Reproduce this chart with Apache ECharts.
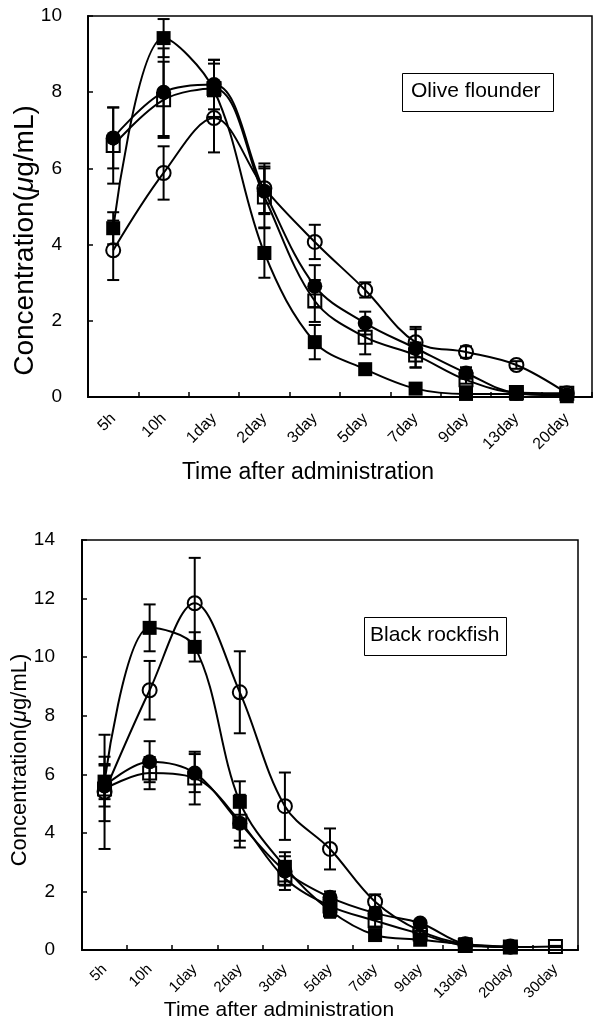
<!DOCTYPE html>
<html>
<head>
<meta charset="utf-8">
<script src="https://cdn.jsdelivr.net/npm/echarts@6/dist/echarts.min.js"></script>
<style>
html,body{margin:0;padding:0;background:#fff;}
#chart{width:593px;height:1018px;}
</style>
</head>
<body>
<div id="chart"></div>
<script>
// ---------- DATA ----------
const topCategories = ['5h','10h','1day','2day','3day','5day','7day','9day','13day','20day'];
const bottomCategories = ['5h','10h','1day','2day','3day','5day','7day','9day','13day','20day','30day'];
const topYTicks = [0, 2, 4, 6, 8, 10];
const bottomYTicks = [0, 2, 4, 6, 8, 10, 12, 14];

// Olive flounder
const topFilledSquare     = [4.43, 9.42, 8.05, 3.78, 1.44, 0.73, 0.22, 0.08, 0.08, 0.02];
const topFilledSquareErr  = [0.42, 0.50, 0.70, 0.65, 0.45, 0.10, 0.06, 0.05, 0.05, 0.02];
const topFilledCircle     = [6.80, 8.00, 8.20, 5.40, 2.91, 1.94, 1.28, 0.63, 0.10, 0.05];
const topFilledCircleErr  = [0.80, 1.15, 0.65, 0.60, 0.55, 0.30, 0.50, 0.15, 0.05, 0.02];
const topOpenSquare       = [6.60, 7.80, 8.10, 5.25, 2.52, 1.57, 1.10, 0.45, 0.12, 0.10];
const topOpenSquareErr    = [1.00, 1.00, 0.75, 0.80, 0.55, 0.45, 0.33, 0.10, 0.05, 0.05];
const topOpenCircle       = [3.85, 5.88, 7.32, 5.48, 4.07, 2.81, 1.44, 1.18, 0.84, 0.10];
const topOpenCircleErr    = [0.78, 0.70, 0.90, 0.65, 0.45, 0.20, 0.40, 0.15, 0.10, 0.05];

// Black rockfish
const botFilledSquare     = [5.75, 11.00, 10.35, 5.06, 2.84, 1.35, 0.51, 0.35, 0.20, 0.10, null];
const botFilledSquareErr  = [0.60, 0.80, 0.50, 0.70, 0.50, 0.25, 0.15, 0.10, 0.05, 0.05, null];
const botFilledCircle     = [5.60, 6.43, 6.04, 4.33, 2.70, 1.80, 1.26, 0.92, 0.20, 0.10, null];
const botFilledCircleErr  = [0.70, 0.70, 0.65, 0.60, 0.50, 0.20, 0.20, 0.10, 0.05, 0.05, null];
const botOpenSquare       = [5.50, 6.04, 5.87, 4.40, 2.45, 1.50, 1.00, 0.55, 0.15, 0.10, 0.12];
const botOpenSquareErr    = [1.10, 0.55, 0.90, 0.90, 0.40, 0.30, 0.20, 0.10, 0.05, 0.05, 0.02];
const botOpenCircle       = [5.40, 8.87, 11.84, 8.80, 4.91, 3.45, 1.65, 0.65, 0.20, 0.12, null];
const botOpenCircleErr    = [1.95, 1.00, 1.55, 1.40, 1.15, 0.70, 0.25, 0.10, 0.05, 0.05, null];

// ---------- CHART ----------
const FONT = 'Liberation Sans, Arial, sans-serif';
const chart = echarts.init(document.getElementById('chart'), null, {renderer: 'canvas'});

const styles = {
  filledSquare: {symbol: 'rect', size: 14, item: {color: '#000', borderColor: '#000', borderWidth: 0}},
  filledCircle: {symbol: 'circle', size: 15, item: {color: '#000', borderColor: '#000', borderWidth: 0}},
  openSquare:   {symbol: 'rect', size: 13, item: {color: 'rgba(255,255,255,0)', borderColor: '#000', borderWidth: 2}},
  openCircle:   {symbol: 'circle', size: 14, item: {color: 'rgba(255,255,255,0)', borderColor: '#000', borderWidth: 2}}
};

const series = [];
function addSet(gi, vals, errs, kind) {
  const data = [];
  vals.forEach((v, i) => { if (v != null) data.push([i, v, errs[i]]); });
  series.push({
    type: 'custom', xAxisIndex: gi, yAxisIndex: gi, silent: true, z: 2,
    encode: {x: 0, y: 1},
    data: data,
    renderItem: function (params, api) {
      const x = api.value(0), y = api.value(1), e = api.value(2);
      const top = api.coord([x, y + e]);
      const bot = api.coord([x, Math.max(0, y - e)]);
      const hw = 6;
      const st = {stroke: '#000', lineWidth: 2};
      return {type: 'group', children: [
        {type: 'line', shape: {x1: top[0], y1: top[1], x2: bot[0], y2: bot[1]}, style: st},
        {type: 'line', shape: {x1: top[0] - hw, y1: top[1], x2: top[0] + hw, y2: top[1]}, style: st},
        {type: 'line', shape: {x1: bot[0] - hw, y1: bot[1], x2: bot[0] + hw, y2: bot[1]}, style: st}
      ]};
    }
  });
  const s = styles[kind];
  series.push({
    type: 'line', xAxisIndex: gi, yAxisIndex: gi, z: 3,
    data: vals,
    smooth: 0.35,
    symbol: s.symbol, symbolSize: s.size, showSymbol: true,
    lineStyle: {color: '#000', width: 2},
    itemStyle: s.item,
    emphasis: {disabled: true}
  });
}

addSet(0, topOpenCircle, topOpenCircleErr, 'openCircle');
addSet(0, topOpenSquare, topOpenSquareErr, 'openSquare');
addSet(0, topFilledCircle, topFilledCircleErr, 'filledCircle');
addSet(0, topFilledSquare, topFilledSquareErr, 'filledSquare');
addSet(1, botOpenCircle, botOpenCircleErr, 'openCircle');
addSet(1, botOpenSquare, botOpenSquareErr, 'openSquare');
addSet(1, botFilledCircle, botFilledCircleErr, 'filledCircle');
addSet(1, botFilledSquare, botFilledSquareErr, 'filledSquare');

function xAxis(gi, cats, fontSize, nameSize, margin, namePad, nameGap) {
  return {
    type: 'category', gridIndex: gi, data: cats, boundaryGap: true,
    axisLine: {show: true, lineStyle: {color: '#000', width: 2}},
    axisTick: {show: true, inside: true, length: 5, lineStyle: {color: '#000', width: 1.5}},
    axisLabel: {rotate: 45, color: '#000', fontSize: fontSize, fontFamily: FONT, margin: margin, interval: 0},
    splitLine: {show: false},
    name: 'Time after administration', nameLocation: 'middle', nameGap: nameGap, nameMoveOverlap: false,
    nameTextStyle: {color: '#000', fontSize: nameSize, fontFamily: FONT, padding: namePad, verticalAlign: 'top'}
  };
}
function yAxis(gi, ticks, nameGap, margin, nameSize, namePad) {
  return {
    type: 'value', gridIndex: gi, min: ticks[0], max: ticks[ticks.length - 1], interval: ticks[1] - ticks[0],
    axisLine: {show: true, lineStyle: {color: '#000', width: 2}},
    axisTick: {show: true, inside: true, length: 5, lineStyle: {color: '#000', width: 1.5}},
    axisLabel: {color: '#000', fontSize: 19, fontFamily: FONT, margin: margin},
    splitLine: {show: false},
    name: 'Concentration({i|μ}g/mL)', nameLocation: 'middle', nameGap: nameGap, nameMoveOverlap: false,
    nameTextStyle: {color: '#000', fontSize: nameSize, fontFamily: FONT, padding: namePad,
      rich: {i: {fontStyle: 'italic', fontSize: nameSize, fontFamily: FONT, color: '#000'}}}
  };
}

const option = {
  animation: false,
  backgroundColor: '#fff',
  grid: [
    {left: 88, top: 16, right: 1, height: 381, show: true, borderColor: '#000', borderWidth: 1.5, containLabel: false, outerBoundsMode: 'none'},
    {left: 82, top: 540, right: 15, height: 410, show: true, borderColor: '#000', borderWidth: 1.5, containLabel: false, outerBoundsMode: 'none'}
  ],
  xAxis: [
    xAxis(0, topCategories, 16, 23, 19, [0, 64, 0, 0], 64),
    xAxis(1, bottomCategories, 15, 21, 17, [0, 102, 0, 0], 50)
  ],
  yAxis: [
    yAxis(0, topYTicks, 49, 26, 28, [0, 68, 0, 0]),
    yAxis(1, bottomYTicks, 51, 27, 22, [0, 30, 0, 0])
  ],
  graphic: [
    {type: 'rect', left: 402, top: 73, shape: {width: 151, height: 38}, style: {fill: '#fff', stroke: '#000', lineWidth: 1}, z: 10},
    {type: 'text', left: 411, top: 81, style: {text: 'Olive flounder', font: '21px ' + FONT, fill: '#000'}, z: 11},
    {type: 'rect', left: 364, top: 617, shape: {width: 142, height: 38}, style: {fill: '#fff', stroke: '#000', lineWidth: 1}, z: 10},
    {type: 'text', left: 370, top: 625, style: {text: 'Black rockfish', font: '21px ' + FONT, fill: '#000'}, z: 11}
  ],
  series: series
};
chart.setOption(option);
</script>
</body>
</html>
